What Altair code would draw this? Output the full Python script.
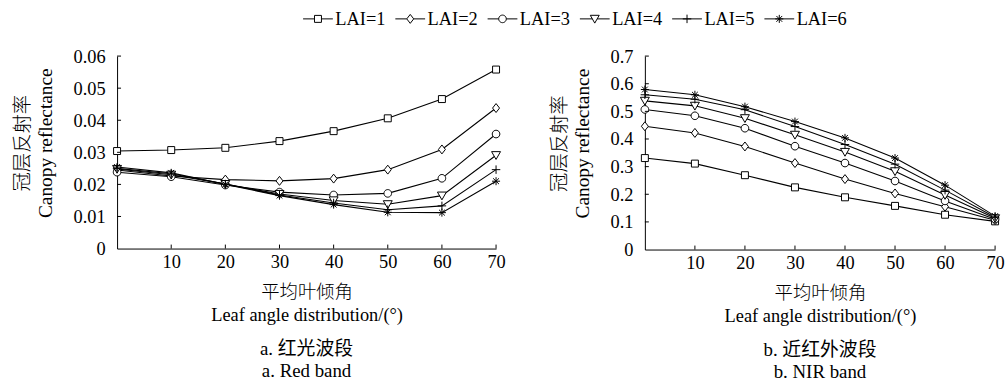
import math
import altair as alt
import pandas as pd

# ---------------- data ----------------
angles = [0, 10, 20, 30, 40, 50, 60, 70]
lai_names = ["LAI=1", "LAI=2", "LAI=3", "LAI=4", "LAI=5", "LAI=6"]

red_lai1 = [0.0304, 0.0307, 0.0314, 0.0335, 0.0366, 0.0406, 0.0466, 0.0558]
red_lai2 = [0.0245, 0.0226, 0.0215, 0.0211, 0.0218, 0.0246, 0.0309, 0.0438]
red_lai3 = [0.0238, 0.0224, 0.0198, 0.0176, 0.0167, 0.0172, 0.0219, 0.0357]
red_lai4 = [0.0248, 0.0230, 0.0201, 0.0170, 0.0150, 0.0138, 0.0165, 0.0291]
red_lai5 = [0.0250, 0.0233, 0.0201, 0.0167, 0.0142, 0.0121, 0.0133, 0.0246]
red_lai6 = [0.0254, 0.0236, 0.0200, 0.0165, 0.0137, 0.0113, 0.0112, 0.0210]

nir_lai1 = [0.331, 0.311, 0.269, 0.225, 0.189, 0.158, 0.126, 0.102]
nir_lai2 = [0.446, 0.422, 0.373, 0.313, 0.255, 0.203, 0.155, 0.106]
nir_lai3 = [0.507, 0.484, 0.439, 0.374, 0.313, 0.248, 0.176, 0.110]
nir_lai4 = [0.538, 0.520, 0.475, 0.415, 0.353, 0.283, 0.197, 0.113]
nir_lai5 = [0.560, 0.544, 0.506, 0.445, 0.380, 0.309, 0.215, 0.117]
nir_lai6 = [0.579, 0.560, 0.517, 0.463, 0.404, 0.331, 0.233, 0.121]

x_tick_values = [10, 20, 30, 40, 50, 60, 70]
red_y_ticks = [0, 0.01, 0.02, 0.03, 0.04, 0.05, 0.06]
nir_y_ticks = [0, 0.1, 0.2, 0.3, 0.4, 0.5, 0.6, 0.7]

x_title = ["平均叶倾角", "Leaf angle distribution/(°)"]
y_title = ["冠层反射率", "Canopy reflectance"]
red_caption = ["a. 红光波段", "a. Red band"]
nir_caption = ["b. 近红外波段", "b. NIR band"]

SERIF = "'Liberation Serif'"
FONT = "'Liberation Serif', 'Noto Sans CJK SC'"


# ---------------- marker shapes (style) ----------------
def path_from(points, closed=True):
    s = "M" + "L".join(f"{x:.3f},{y:.3f}" for x, y in points)
    return s + ("Z" if closed else "")


def scale_pts(points, k):
    return [(x * k, y * k) for x, y in points]


sq = [(-0.78, -0.78), (0.78, -0.78), (0.78, 0.78), (-0.78, 0.78)]
dia = [(0, -1.0), (0.78, 0), (0, 1.0), (-0.78, 0)]
circ = [(0.85 * math.cos(2 * math.pi * i / 24), 0.85 * math.sin(2 * math.pi * i / 24)) for i in range(24)]
tri = [(-1.0, -0.8), (1.0, -0.8), (0, 0.95)]
plus_segs = [((-0.95, 0), (0.95, 0)), ((0, -0.95), (0, 0.95))]
star_segs = [((-0.9, 0), (0.9, 0)), ((0, -0.9), (0, 0.9)),
             ((-0.65, -0.65), (0.65, 0.65)), ((-0.65, 0.65), (0.65, -0.65))]


def seg_path(segs, k=1.0):
    return "".join(f"M{a[0]*k:.3f},{a[1]*k:.3f}L{b[0]*k:.3f},{b[1]*k:.3f}" for a, b in segs)


marker_paths = [path_from(sq), path_from(dia), path_from(circ), path_from(tri),
                seg_path(plus_segs), seg_path(star_segs)]

K = 0.3  # legend symbol box is ~30px, markers ~9px
gaps = [0.78 * K, 0.78 * K, 0.85 * K, 0.54 * K]
legend_paths = []
for shp, g in zip([sq, dia, circ, tri], gaps):
    legend_paths.append(f"M-1,0L{-g:.3f},0M{g:.3f},0L1,0" + path_from(scale_pts(shp, K)))
legend_paths.append("M-1,0L1,0" + seg_path(plus_segs, K))
legend_paths.append("M-1,0L1,0" + seg_path(star_segs, K))


def long_df(series):
    rows = []
    for name, vals in zip(lai_names, series):
        for a, v in zip(angles, vals):
            rows.append({"LAI": name, "angle": a, "refl": v})
    return pd.DataFrame(rows)


def panel(series, ymax, yticks, yfmt, caption, W, H, with_legend):
    df = long_df(series)
    xenc = alt.X("angle:Q", scale=alt.Scale(domain=[0, 70], nice=False),
                 axis=alt.Axis(values=x_tick_values, ticks=False, tickSize=0, grid=False,
                               labelOverlap=False, labelFlush=False, title=x_title,
                               labelPadding=4, titlePadding=12))
    label_expr = f"datum.value == 0 ? '0' : format(datum.value, '{yfmt}')"
    yenc = alt.Y("refl:Q", scale=alt.Scale(domain=[0, ymax], nice=False, zero=True),
                 axis=alt.Axis(values=yticks, ticks=False, tickSize=0, grid=False,
                               labelOverlap=False, labelFlush=False, labelExpr=label_expr,
                               title=y_title, labelPadding=12, titlePadding=18,
                               titleFontSize=19.5, titleY=H * 0.45))
    base = alt.Chart(df)
    layers = [base.mark_line(color="black", strokeWidth=1.1).encode(x=xenc, y=yenc, detail="LAI:N")]
    for name, pth in zip(lai_names, marker_paths):
        layers.append(
            base.transform_filter(alt.datum.LAI == name)
            .mark_point(shape=pth, size=81, filled=True, fill="white", stroke="black",
                        strokeWidth=1, opacity=1)
            .encode(x=xenc, y=yenc)
        )
    yt = alt.Chart(pd.DataFrame({"refl": [v for v in yticks if v > 0]})).mark_rule(
        color="black", strokeWidth=1).encode(y=yenc, x=alt.value(0), x2=alt.value(4))
    xt = alt.Chart(pd.DataFrame({"angle": x_tick_values})).mark_rule(
        color="black", strokeWidth=1).encode(x=xenc, y=alt.value(H), y2=alt.value(H - 4))
    layers += [yt, xt]
    if with_legend:
        leg = (
            base.transform_filter("false")
            .mark_point(size=900, filled=False, color="black", strokeWidth=1, opacity=1)
            .encode(
                x=xenc, y=yenc,
                shape=alt.Shape("LAI:N",
                                scale=alt.Scale(domain=lai_names, range=legend_paths),
                                legend=alt.Legend(orient="none", direction="horizontal",
                                                  legendX=187, legendY=-53, title=None,
                                                  labelFont=SERIF, labelFontSize=18.5,
                                                  labelOffset=2, columnPadding=7,
                                                  symbolSize=900, symbolStrokeWidth=1,
                                                  symbolStrokeColor="black",
                                                  labelColor="black")),
            )
        )
        layers.append(leg)
    return alt.layer(*layers).properties(
        width=W, height=H,
        title=alt.TitleParams(caption, orient="bottom", anchor="middle", frame="group",
                              font=FONT, fontSize=19, fontWeight="normal", lineHeight=22,
                              offset=16, color="black"),
    )


left = panel([red_lai1, red_lai2, red_lai3, red_lai4, red_lai5, red_lai6],
             0.06, red_y_ticks, ".2f", red_caption, 382, 194, True)
right = panel([nir_lai1, nir_lai2, nir_lai3, nir_lai4, nir_lai5, nir_lai6],
              0.7, nir_y_ticks, ".1f", nir_caption, 353, 195, False)

chart = (
    alt.hconcat(left, right, spacing=43)
    .resolve_scale(y="independent", x="independent", shape="shared")
    .properties(padding={"left": 12, "top": 2, "right": 0, "bottom": 2}, background="white")
    .configure_view(stroke=None)
    .configure_axis(domainColor="black", domainWidth=1, labelColor="black", titleColor="black",
                    labelFont=SERIF, labelFontSize=18.5, titleFont=FONT, titleFontSize=18.5,
                    titleFontWeight=300, titleLineHeight=23)
)

chart.save("out.html", embed_options={"renderer": "svg", "actions": False})
